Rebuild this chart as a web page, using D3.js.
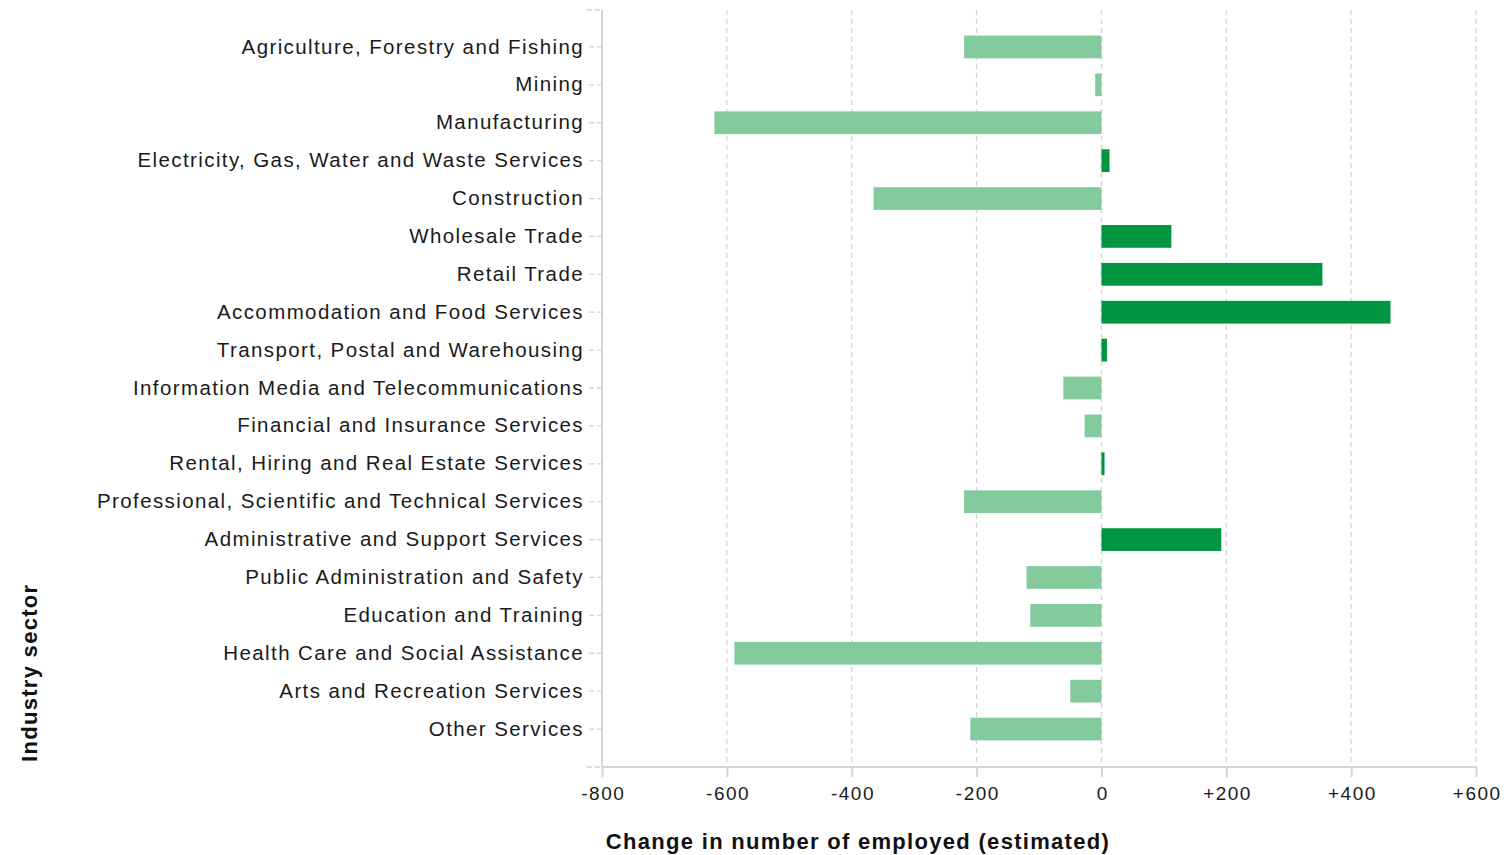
<!DOCTYPE html>
<html><head><meta charset="utf-8">
<script src="https://cdn.jsdelivr.net/npm/d3@7"></script>
<style>body{margin:0;background:#fff}</style>
</head><body>
<svg id="c" width="1504" height="855"></svg>
<script>
const categories = ["Agriculture, Forestry and Fishing","Mining","Manufacturing","Electricity, Gas, Water and Waste Services","Construction","Wholesale Trade","Retail Trade","Accommodation and Food Services","Transport, Postal and Warehousing","Information Media and Telecommunications","Financial and Insurance Services","Rental, Hiring and Real Estate Services","Professional, Scientific and Technical Services","Administrative and Support Services","Public Administration and Safety","Education and Training","Health Care and Social Assistance","Arts and Recreation Services","Other Services"];
const values = [-220,-10,-620,13,-365,112,354,463,9,-61,-27,5,-220,192,-120,-114,-588,-50,-210];
const xTicks = [-800,-600,-400,-200,0,200,400,600];
const xTickLabels = ["-800","-600","-400","-200","0","+200","+400","+600"];

const svg = d3.select("#c");
const L = 602, R = 1476, T = 10, B = 767;
const x = d3.scaleLinear().domain([-800,600]).range([L,R]);
const y = d3.scaleBand().domain(categories).range([28,748]).paddingInner(0.4).paddingOuter(0.2);
const grid = "#d4d4d4";
const font = "'Liberation Sans', Arial, sans-serif";

// gridlines
svg.append("g").selectAll("line").data(xTicks.filter(d=>d>-800)).join("line")
  .attr("x1",d=>x(d)).attr("x2",d=>x(d)).attr("y1",T).attr("y2",B)
  .attr("stroke",grid).attr("stroke-width",1.3).attr("stroke-dasharray","5,4");

// bars
svg.append("g").selectAll("rect").data(values).join("rect")
  .attr("x",d=>x(Math.min(0,d))).attr("width",d=>Math.abs(x(d)-x(0)))
  .attr("y",(d,i)=>y(categories[i])).attr("height",y.bandwidth())
  .attr("fill",d=>d<0?"#83cb9d":"#009641");

// y axis
const ya = svg.append("g").attr("transform",`translate(${L},0)`)
  .call(d3.axisLeft(y).tickSize(15).tickPadding(3));
ya.select(".domain").remove();
ya.selectAll(".tick line").attr("stroke",grid).attr("stroke-width",1.3).attr("stroke-dasharray","5,3");
ya.selectAll(".tick text").attr("font-family",font).attr("font-size","20.5px")
  .attr("letter-spacing","1.4px").attr("fill","#1a1a1a");
svg.append("line").attr("x1",L).attr("x2",L).attr("y1",T).attr("y2",B).attr("stroke",grid).attr("stroke-width",2);
[T,B].forEach(v=>svg.append("line").attr("x1",L-15).attr("x2",L).attr("y1",v).attr("y2",v)
  .attr("stroke",grid).attr("stroke-width",1.3).attr("stroke-dasharray","5,3"));

// x axis
const xa = svg.append("g").attr("transform",`translate(0,${B})`)
  .call(d3.axisBottom(x).tickValues(xTicks).tickFormat((d,i)=>xTickLabels[i]).tickSize(10).tickPadding(10));
xa.select(".domain").remove();
xa.selectAll(".tick line").attr("stroke",grid).attr("stroke-width",2);
xa.selectAll(".tick text").attr("font-family",font).attr("font-size","19px")
  .attr("letter-spacing","1.5px").attr("dx","0.75px").attr("fill","#1a1a1a");
svg.append("line").attr("x1",L).attr("x2",R).attr("y1",B).attr("y2",B).attr("stroke",grid).attr("stroke-width",2);

// titles
svg.append("text").attr("x",858).attr("y",849).attr("text-anchor","middle")
  .attr("font-family",font).attr("font-weight","bold").attr("font-size","22px")
  .attr("letter-spacing","1.3px").attr("fill","#111")
  .text("Change in number of employed (estimated)");
svg.append("text").attr("transform","translate(37,762) rotate(-90)").attr("text-anchor","start")
  .attr("font-family",font).attr("font-weight","bold").attr("font-size","22px")
  .attr("letter-spacing","1.3px").attr("fill","#111")
  .text("Industry sector");
</script>
</body></html>
